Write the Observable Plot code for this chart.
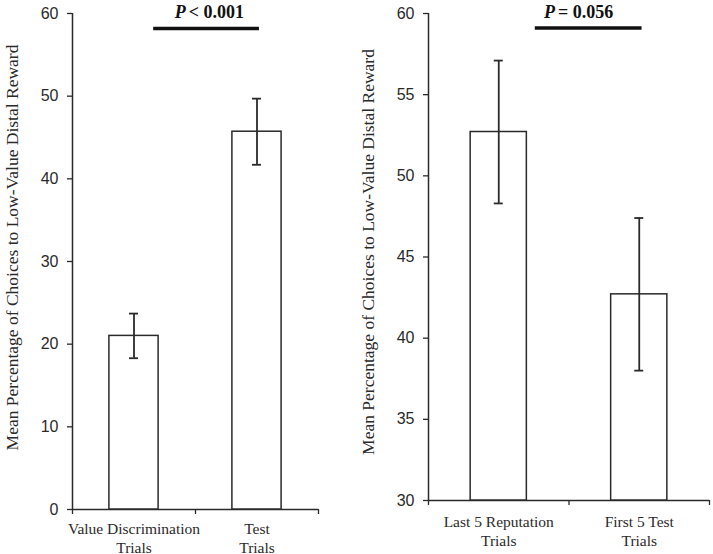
<!DOCTYPE html>
<html>
<head>
<meta charset="utf-8">
<script src="https://cdn.jsdelivr.net/npm/d3@7"></script>
<script src="https://cdn.jsdelivr.net/npm/@observablehq/plot@0.6"></script>
<style>
  html, body { margin: 0; padding: 0; background: #fff; }
  #wrap { display: flex; width: 713px; height: 554px; }
  svg { display: block; }
</style>
</head>
<body>
<div id="wrap"></div>
<script>
// ---- Data ----
const leftCategories = ["Value Discrimination\nTrials", "Test\nTrials"];
const leftMeans = [21.0, 45.7];
const leftErrors = [2.7, 4.0];
const leftYTicks = [0, 10, 20, 30, 40, 50, 60];
const leftYDomain = [0, 60];
const leftSigText = "< 0.001";
const leftSigSpan = [0.66, 1.52];
const leftSigLevel = 58.2;

const rightCategories = ["Last 5 Reputation\nTrials", "First 5 Test\nTrials"];
const rightMeans = [52.7, 42.7];
const rightErrors = [4.4, 4.7];
const rightYTicks = [30, 35, 40, 45, 50, 55, 60];
const rightYDomain = [30, 60];
const rightSigText = "= 0.056";
const rightSigSpan = [0.76, 1.52];
const rightSigLevel = 59.1;

const yLabel = "Mean Percentage of Choices to Low-Value Distal Reward";

const ink = "#2a2a2a";

function panel(o) {
  const data = o.cats.map((c, i) => ({i, cat: c, mean: o.means[i], lo: o.means[i] - o.errs[i], hi: o.means[i] + o.errs[i]}));
  const y0 = o.yDomain[0];
  return Plot.plot({
    width: o.width,
    height: 554,
    marginTop: 13,
    marginLeft: o.marginLeft,
    marginRight: o.marginRight,
    marginBottom: o.marginBottom,
    style: {background: "white", color: ink, overflow: "visible"},
    x: {domain: [0, 2], axis: null},
    y: {domain: o.yDomain, axis: null},
    marks: [
      Plot.axisY({ticks: o.yTicks, tickSize: 5, tickPadding: 9, label: null, fontSize: 16, fontFamily: "Liberation Sans", stroke: ink, strokeWidth: 1.3}),
      Plot.axisX({ticks: [0, 1, 2], tickFormat: () => "", tickSize: 5, label: null, stroke: ink, strokeWidth: 1.3}),
      Plot.ruleX([0], {stroke: ink, strokeWidth: 1.5}),
      Plot.ruleY([y0], {stroke: ink, strokeWidth: 1.5}),
      Plot.rect(data, {x1: d => d.i + 0.3, x2: d => d.i + 0.7, y1: y0, y2: "mean", fill: "white", stroke: ink, strokeWidth: 1.5}),
      Plot.ruleX(data, {x: d => d.i + 0.5, y1: "lo", y2: "hi", stroke: ink, strokeWidth: 1.8}),
      Plot.ruleY(data, {x1: d => d.i + 0.5, x2: d => d.i + 0.5, y: "hi", insetLeft: -4.5, insetRight: -4.5, stroke: ink, strokeWidth: 1.8}),
      Plot.ruleY(data, {x1: d => d.i + 0.5, x2: d => d.i + 0.5, y: "lo", insetLeft: -4.5, insetRight: -4.5, stroke: ink, strokeWidth: 1.8}),
      Plot.text(data, {x: d => d.i + 0.5, y: y0, text: "cat", lineAnchor: "top", dy: o.labelDy, fontSize: 15.5, fontFamily: "Liberation Serif", lineHeight: 1.17, fill: ink}),
      Plot.ruleY([o.sigLevel], {x1: o.sigSpan[0], x2: o.sigSpan[1], stroke: "#111", strokeWidth: 3.5}),
      Plot.text(["P"], {x: o.sigSplit, y: o.yDomain[1], dy: -1.5, text: d => d, textAnchor: "end", lineAnchor: "middle", fontSize: 18, fontWeight: "bold", fontStyle: "italic", fontFamily: "Liberation Serif", fill: "#111"}),
      Plot.text([o.sigText], {x: o.sigSplit, y: o.yDomain[1], dy: -1.5, dx: 3, text: d => d, textAnchor: "start", lineAnchor: "middle", fontSize: 18, fontWeight: "bold", fontFamily: "Liberation Serif", fill: "#111"}),
      Plot.text([yLabel], {frameAnchor: "left", text: d => d, rotate: -90, textAnchor: "middle", lineAnchor: "middle", dx: o.yLabelDx, dy: o.yLabelDy, fontSize: 17.5, fontFamily: "Liberation Serif", fill: ink})
    ]
  });
}

const wrap = document.getElementById("wrap");
wrap.append(panel({
  cats: leftCategories, means: leftMeans, errs: leftErrors, yDomain: leftYDomain, yTicks: leftYTicks,
  sigText: leftSigText, sigSpan: leftSigSpan, sigLevel: leftSigLevel, sigSplit: 0.92,
  width: 360, marginLeft: 72, marginRight: 42, marginBottom: 45, labelDy: 12, yLabelDx: -60, yLabelDy: -14
}));
wrap.append(panel({
  cats: rightCategories, means: rightMeans, errs: rightErrors, yDomain: rightYDomain, yTicks: rightYTicks,
  sigText: rightSigText, sigSpan: rightSigSpan, sigLevel: rightSigLevel, sigSplit: 0.90,
  width: 353, marginLeft: 68, marginRight: 4, marginBottom: 54, labelDy: 14, yLabelDx: -60, yLabelDy: -5
}));
</script>
</body>
</html>
